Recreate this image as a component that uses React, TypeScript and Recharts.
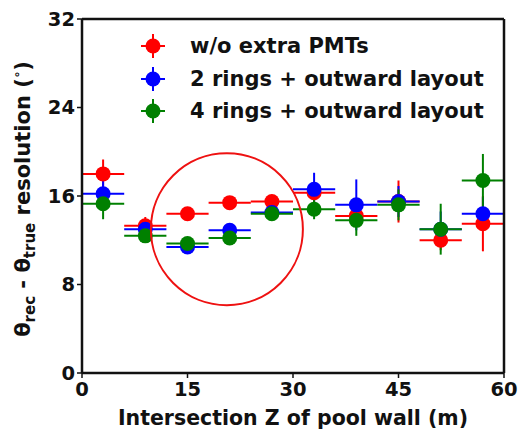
import { ScatterChart, Scatter, XAxis, YAxis, ErrorBar, ReferenceDot } from 'recharts';

const zCenters = [3, 9, 15, 21, 27, 33, 39, 45, 51, 57];
const zHalfWidth = [3, 3, 3, 3, 3, 3, 3, 3, 3, 3];

const noExtraRes = [18.0, 13.3, 14.4, 15.4, 15.5, 16.3, 14.2, 15.5, 12.0, 13.5];
const noExtraErr = [1.3, 0.8, 0.5, 0.5, 0.6, 1.0, 1.0, 1.9, 0.9, 2.5];
const twoRingsRes = [16.2, 13.0, 11.4, 12.9, 14.5, 16.6, 15.2, 15.5, 13.0, 14.4];
const twoRingsErr = [1.3, 0.7, 0.5, 0.6, 0.6, 1.5, 2.3, 1.4, 1.6, 1.5];
const fourRingsRes = [15.3, 12.4, 11.7, 12.2, 14.4, 14.8, 13.8, 15.2, 13.0, 17.4];
const fourRingsErr = [1.4, 0.6, 0.5, 0.6, 0.6, 0.9, 1.4, 1.4, 2.3, 2.4];

const xTicks = [0, 15, 30, 45, 60];
const yTicks = [0, 8, 16, 24, 32];

const series = [
  { name: 'w/o extra PMTs', color: '#ff0000', res: noExtraRes, err: noExtraErr },
  { name: '2 rings + outward layout', color: '#0000ff', res: twoRingsRes, err: twoRingsErr },
  { name: '4 rings + outward layout', color: '#008000', res: fourRingsRes, err: fourRingsErr },
];

const font = '"DejaVu Sans", sans-serif';

const build = (res: number[], err: number[]) =>
  zCenters.map((z, i) => ({ z, r: res[i], ez: zHalfWidth[i], er: err[i] }));

const Dot = (color: string) => (props: any) => (
  <circle cx={props.cx} cy={props.cy} r={7.5} fill={color} />
);

function LegendBox() {
  return (
    <div style={{ position: 'absolute', left: 138, top: 30, fontFamily: font, fontWeight: 'bold', fontSize: 21, color: '#111', whiteSpace: 'nowrap' }}>
      {series.map((s) => (
        <div key={s.name} style={{ display: 'flex', alignItems: 'center', height: 32.5 }}>
          <svg width={30} height={26} style={{ marginRight: 22 }}>
            <line x1={3} x2={27} y1={13} y2={13} stroke={s.color} strokeWidth={2} />
            <line x1={15} x2={15} y1={1} y2={25} stroke={s.color} strokeWidth={2} />
            <circle cx={15} cy={13} r={7.5} fill={s.color} />
          </svg>
          <span>{s.name}</span>
        </div>
      ))}
    </div>
  );
}

function YLabel() {
  return (
    <text
      transform="translate(30,199) rotate(-90)"
      textAnchor="middle"
      fontFamily={font}
      fontWeight="bold"
      fontSize={21}
      fill="#111"
    >
      θ<tspan fontSize={15} dy={5}>rec</tspan>
      <tspan dy={-5}> - θ</tspan>
      <tspan fontSize={15} dy={5}>true</tspan>
      <tspan dy={-5}> resolution (</tspan>
      <tspan fontSize={12} dy={-9}>∘</tspan>
      <tspan dy={9}>)</tspan>
    </text>
  );
}

export default function App() {
  const tickStyle = { fontFamily: font, fontWeight: 'bold' as const, fontSize: 19.5, fill: '#111' };
  return (
    <div style={{ position: 'fixed', left: 0, top: 0, width: 518, height: 430, background: '#fff' }}>
      <ScatterChart width={518} height={430} margin={{ top: 18, right: 13, bottom: 0, left: 0 }}>
        <XAxis
          xAxisId="main"
          type="number"
          dataKey="z"
          domain={[0, 60]}
          ticks={xTicks}
          tick={tickStyle}
          tickSize={5}
          tickMargin={4}
          tickLine={{ stroke: '#111', strokeWidth: 1.5 }}
          axisLine={{ stroke: '#111', strokeWidth: 2.5 }}
          height={57}
          label={{ value: 'Intersection Z of pool wall (m)', position: 'insideBottom', offset: 5, style: { ...tickStyle, fontSize: 20.5 } }}
        />
        <XAxis xAxisId="top" orientation="top" type="number" domain={[0, 60]} tick={false} tickLine={false} height={1} axisLine={{ stroke: '#111', strokeWidth: 2.5 }} />
        <YAxis
          yAxisId="main"
          type="number"
          dataKey="r"
          domain={[0, 32]}
          ticks={yTicks}
          tick={tickStyle}
          tickSize={5}
          tickLine={{ stroke: '#111', strokeWidth: 1.5 }}
          axisLine={{ stroke: '#111', strokeWidth: 2.5 }}
          width={82}
          label={<YLabel />}
        />
        <YAxis yAxisId="right" orientation="right" type="number" domain={[0, 32]} tick={false} tickLine={false} width={1} axisLine={{ stroke: '#111', strokeWidth: 2.5 }} />
        {series.map((s) => (
          <Scatter
            key={s.name}
            name={s.name}
            xAxisId="main"
            yAxisId="main"
            data={build(s.res, s.err)}
            fill={s.color}
            shape={Dot(s.color)}
            isAnimationActive={false}
          >
            <ErrorBar dataKey="ez" direction="x" width={0} stroke={s.color} strokeWidth={2} isAnimationActive={false} />
            <ErrorBar dataKey="er" direction="y" width={0} stroke={s.color} strokeWidth={2} isAnimationActive={false} />
          </Scatter>
        ))}
        <ReferenceDot
          xAxisId="main"
          yAxisId="main"
          x={20.6}
          y={13.0}
          r={76}
          fill="none"
          stroke="#ee1111"
          strokeWidth={2}
          ifOverflow="visible"
        />
      </ScatterChart>
      <LegendBox />
    </div>
  );
}
